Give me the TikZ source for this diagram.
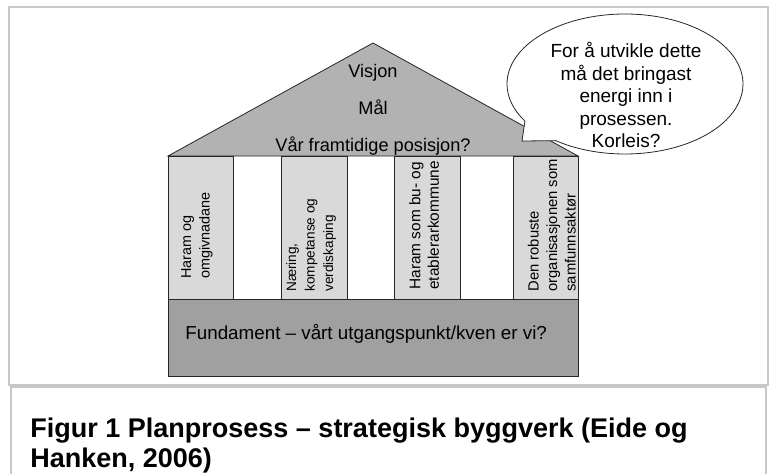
\documentclass[tikz,border=0pt]{standalone}
\usepackage{fontspec}
\setmainfont{Liberation Sans}
\usetikzlibrary{shapes.callouts}

\definecolor{roofgray}{RGB}{178,178,178}
\definecolor{pillargray}{RGB}{217,217,217}
\definecolor{basegray}{RGB}{160,160,160}
\definecolor{framegray}{RGB}{200,200,200}

\begin{document}
\begin{tikzpicture}[x=1pt,y=-1pt,line width=0.8pt,
    frame/.style={draw=framegray,line width=2pt},
    part/.style={draw=black!85},
    label/.style={font=\fontsize{19}{22.5}\selectfont,inner sep=0pt},
    rooftext/.style={font=\fontsize{18.2}{22}\selectfont,inner sep=0pt,anchor=base},
    pillartext/.style={font=\fontsize{#1}{18.5}\selectfont,rotate=90,anchor=west,align=left,inner sep=0pt},
    pillartext/.default=14.8]
    \useasboundingbox (0,0) rectangle (773,474);

    % frames
    \draw[frame] (9,7) rectangle (768,385);
    \draw[frame] (11,474) -- (11,387) -- (766,387) -- (766,474);

    % house
    \filldraw[part,fill=roofgray] (168,156) -- (373,43) -- (578,156) -- cycle;
    \filldraw[part,fill=pillargray] (168,156) rectangle (233,299);
    \filldraw[part,fill=pillargray] (281,156) rectangle (347,299);
    \filldraw[part,fill=pillargray] (394,156) rectangle (460,299);
    \filldraw[part,fill=pillargray] (513,156) rectangle (578,299);
    \filldraw[part,fill=basegray] (168,299) rectangle (578,376);

    \node[rooftext] (visjon) at (373,77) {Visjon};
    \node[rooftext] (maal) at (373,114) {Mål};
    \node[rooftext] (posisjon) at (373,151) {Vår framtidige posisjon?};

    \node[pillartext=14.4] (omgivnad) at (197,279) {Haram og\\omgivnadane};
    \node[pillartext=13.6] (naering) at (311,292) {Næring,\\kompetanse og\\verdiskaping};
    \node[pillartext=15.4] (bukommune) at (424,290) {Haram som bu- og\\etablerarkommune};
    \node[pillartext] (organisasjon) at (552,292) {Den robuste\\organisasjonen som\\samfunnsaktør};

    \node[label,font=\fontsize{18.8}{22.5}\selectfont,anchor=base west] (fundament) at (185,339) {Fundament – vårt utgangspunkt/kven er vi?};

    % speech bubble
    \node[ellipse callout,part,fill=white,minimum width=236pt,minimum height=140pt,inner sep=0pt,
      callout absolute pointer={(522,141)},callout pointer arc=22] (bubble) at (625,84) {};
    \node[label,align=center] (energi) at (626,95) {For å utvikle dette\\må det bringast\\energi inn i\\prosessen.\\Korleis?};

    \node[anchor=north west,align=left,inner sep=0pt,font=\fontsize{27}{30}\selectfont\bfseries] (caption) at (30,417.5)
      {Figur 1 Planprosess – strategisk byggverk (Eide og\\Hanken, 2006)};
\end{tikzpicture}
\end{document}
